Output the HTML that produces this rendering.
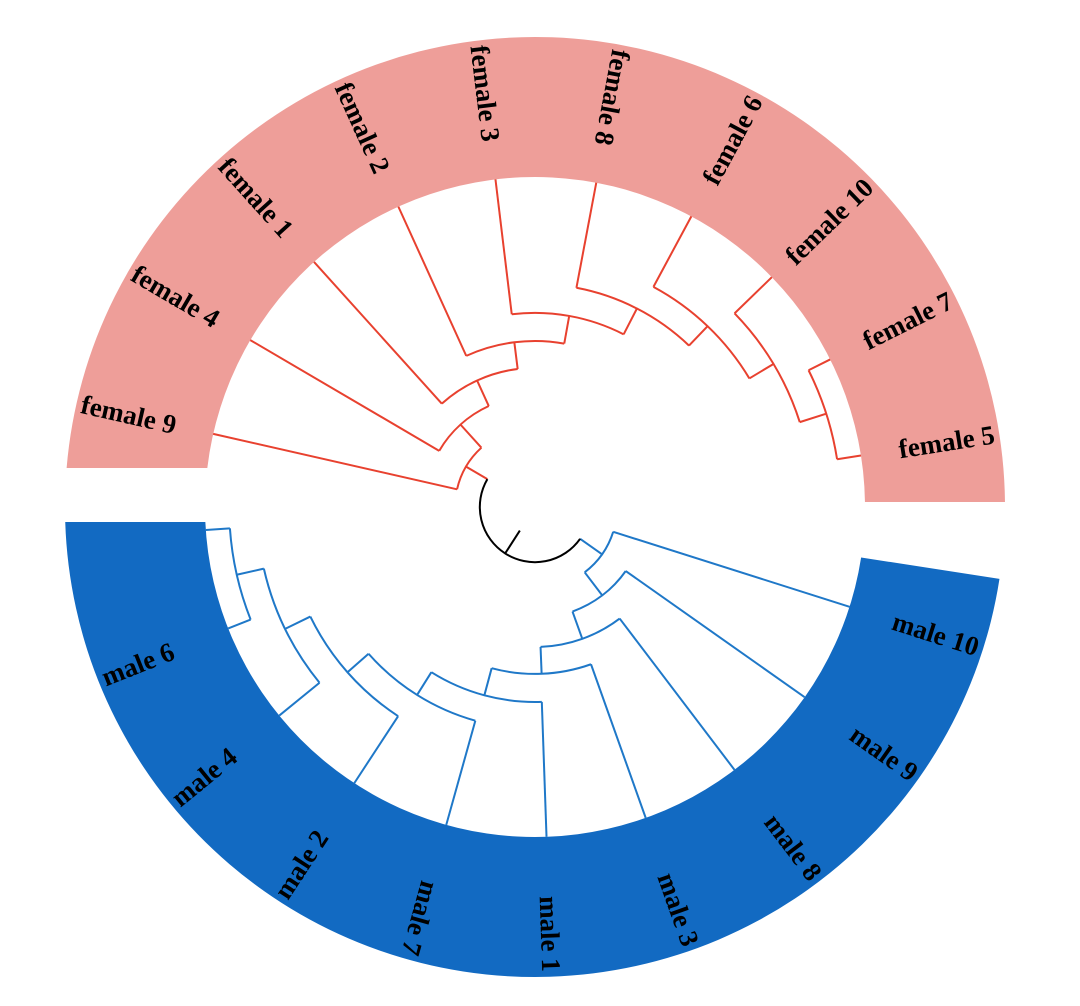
<!DOCTYPE html>
<html><head><meta charset="utf-8"><style>
html,body{margin:0;padding:0;background:#fff;}
svg{display:block;}
text{font-family:"Liberation Serif",serif;font-weight:bold;font-size:27px;fill:#000;}
</style></head><body>
<svg id="chart" width="1080" height="1006" viewBox="0 0 1080 1006" xmlns="http://www.w3.org/2000/svg">
<g id="bands"></g>
<g id="tree" fill="none" stroke-width="2"></g>
<g id="labels"></g>
</svg>
<script>
// ---- data ----
const femaleOrder = ["female 9","female 4","female 1","female 2","female 3","female 8","female 6","female 10","female 7","female 5"];
const femaleMergeSeq = ["female 5","female 7","female 10","female 6","female 8","female 3","female 2","female 1","female 4","female 9"];
const femaleHeights = [0.8,1.72,2.65,3.54,4.5,5.43,6.32,7.25,8.28];
const maleOrder = ["male 5","male 6","male 4","male 2","male 7","male 1","male 3","male 8","male 9","male 10"];
const maleMergeSeq = ["male 5","male 6","male 4","male 2","male 7","male 1","male 3","male 8","male 9","male 10"];
const maleHeights = [0.8,1.72,2.65,3.58,4.47,5.4,6.29,7.25,8.21];
const hiddenLabels = ["male 5"];
const rootHeight = 9.1;
const rootStemHeight = 10;

// ---- layout ----
const NS="http://www.w3.org/2000/svg";
const cx=535, cy=507, leafR=330, outerR=470, labelR=465;
function rScale(h){return leafR - h*30.2;}
function femaleAngle(i){return 167.2 - i*17.58;}
function maleAngle(i){return 184 + i*17.6;}
function pt(r,a){const t=a*Math.PI/180;return [cx+r*Math.cos(t), cy-r*Math.sin(t)];}
function arcPath(r,a1,a2){
  const lo=Math.min(a1,a2), hi=Math.max(a1,a2);
  const p1=pt(r,lo), p2=pt(r,hi);
  return `M${p1[0]},${p1[1]} A${r},${r} 0 ${hi-lo>180?1:0} 0 ${p2[0]},${p2[1]}`;
}
function radial(r1,r2,a){const p=pt(r1,a),q=pt(r2,a);return `M${p[0]},${p[1]} L${q[0]},${q[1]}`;}
const treeG=document.getElementById('tree');
function addPath(d,color,name){
  const p=document.createElementNS(NS,'path');
  p.setAttribute('d',d);p.setAttribute('stroke',color);
  
  
  treeG.appendChild(p);
}

// bands
const bandsG=document.getElementById('bands');
function band(d,color,name){
  const p=document.createElementNS(NS,'path');
  p.setAttribute('d',d);p.setAttribute('fill',color);
  
  
  bandsG.appendChild(p);
}
(function(){
  // female band: horizontal bottom edges
  const yl=468, yr=502;
  const oL=[cx-Math.sqrt(outerR*outerR-(cy-yl)**2),yl], iL=[cx-Math.sqrt(leafR*leafR-(cy-yl)**2),yl];
  const oR=[cx+Math.sqrt(outerR*outerR-(cy-yr)**2),yr], iR=[cx+Math.sqrt(leafR*leafR-(cy-yr)**2),yr];
  band(`M${oL[0]},${oL[1]} A${outerR},${outerR} 0 0 1 ${oR[0]},${oR[1]} L${iR[0]},${iR[1]} A${leafR},${leafR} 0 0 0 ${iL[0]},${iL[1]} Z`,'#ee9e99','female-band');
  // male band
  const yb=522;
  const bOL=[cx-Math.sqrt(outerR*outerR-(yb-cy)**2),yb], bIL=[cx-Math.sqrt(leafR*leafR-(yb-cy)**2),yb];
  const bOR=pt(outerR,351.2), bIR=pt(leafR,351.2);
  band(`M${bOL[0]},${bOL[1]} A${outerR},${outerR} 0 0 0 ${bOR[0]},${bOR[1]} L${bIR[0]},${bIR[1]} A${leafR},${leafR} 0 0 1 ${bIL[0]},${bIL[1]} Z`,'#126ac2','male-band');
})();

// build ladder tree
function buildClade(order,mergeSeq,heights,angleFn,color,prefix){
  const ang={};order.forEach((n,i)=>ang[n]=angleFn(i));
  // leaves branches
  order.forEach(n=>addPath(radial(leafR, rScale(0), ang[n]) ,color,prefix+'-leaf-'+n.replace(' ','-')));
  let cur={a:ang[mergeSeq[0]],h:0};
  for(let k=1;k<mergeSeq.length;k++){
    const h=heights[k-1];
    const other={a:ang[mergeSeq[k]],h:0};
    const r=rScale(h);
    // extend children to node radius
    addPath(radial(rScale(cur.h),r,cur.a),color,prefix+'-branch');
    addPath(radial(rScale(other.h),r,other.a),color,prefix+'-branch');
    addPath(arcPath(r,cur.a,other.a),color,prefix+'-node-arc');
    cur={a:(cur.a+other.a)/2,h:h};
  }
  return cur;
}
const fRoot=buildClade(femaleOrder,femaleMergeSeq,femaleHeights,femaleAngle,'#e8412f','female');
const mRoot=buildClade(maleOrder,maleMergeSeq,maleHeights,maleAngle,'#1f78c8','male');
// stems to root
addPath(radial(rScale(fRoot.h),rScale(rootHeight),fRoot.a),'#e8412f','female-root-stem');
addPath(radial(rScale(mRoot.h),rScale(rootHeight),mRoot.a),'#1f78c8','male-root-stem');
addPath(arcPath(rScale(rootHeight),fRoot.a,mRoot.a),'#000','root-arc');
const ra=(fRoot.a+mRoot.a)/2;
addPath(radial(rScale(rootHeight),rScale(rootStemHeight),ra),'#000','root-stem');

// labels
const labelsG=document.getElementById('labels');
function addLabels(order,angleFn,prefix){
  order.forEach((n,i)=>{
    if(hiddenLabels.includes(n))return;
    const a=angleFn(i);const aa=((a%360)+360)%360;
    const p=pt(labelR,a);
    const flip=aa>70&&aa<245;
    const t=document.createElementNS(NS,'text');
    t.textContent=n;
    t.setAttribute('x',p[0]);t.setAttribute('y',p[1]);
    t.setAttribute('dominant-baseline','central');
    t.setAttribute('text-anchor',flip?'start':'end');
    t.setAttribute('transform',`rotate(${flip?180-a:-a} ${p[0]} ${p[1]})`);
    
    
    labelsG.appendChild(t);
  });
}
addLabels(femaleOrder,femaleAngle,'female');
addLabels(maleOrder,maleAngle,'male');
</script>
</body></html>
